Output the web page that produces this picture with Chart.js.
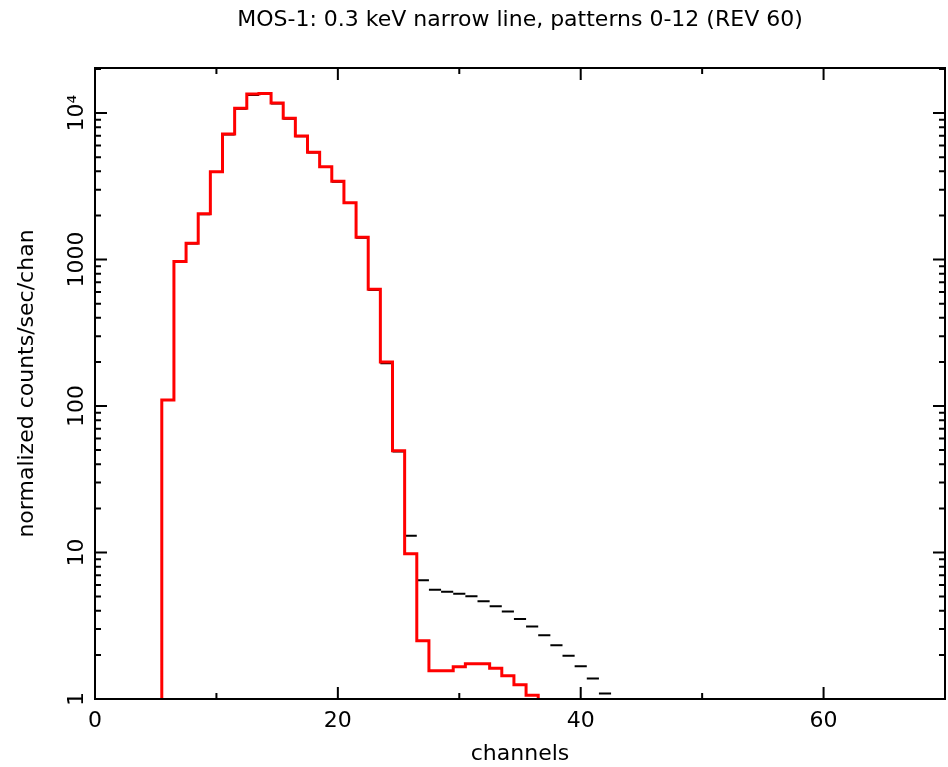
<!DOCTYPE html>
<html lang="en">
<head>
    <meta charset="UTF-8">
    <title>MOS-1 spectrum</title>
    <script src="https://cdn.jsdelivr.net/npm/chart.js@4.4.1/dist/chart.umd.min.js"></script>
    <style>
        body { margin: 0; background: #fff; }
        #wrap { width: 948px; height: 767px; }
    </style>
</head>
<body>
    <div id="wrap"><canvas id="myChart"></canvas></div>
    <script>
        // model (red histogram), channels 5..37
        const modelChannels = [5, 6, 7, 8, 9, 10, 11, 12, 13, 14, 15, 16, 17, 18, 19, 20, 21,
            22, 23, 24, 25, 26, 27, 28, 29, 30, 31, 32, 33, 34, 35, 36, 37];
        const modelValues = [0.5, 110, 970, 1290, 2050, 3980, 7190, 10800, 13500, 13600, 11700,
            9200, 6970, 5400, 4300, 3420, 2440, 1420, 626, 200, 49.5, 9.8, 2.5, 1.56, 1.56,
            1.66, 1.74, 1.74, 1.62, 1.44, 1.25, 1.06, 0.8];

        // data (black bins), channels 6..42
        const dataChannels = [6, 7, 8, 9, 10, 11, 12, 13, 14, 15, 16, 17, 18, 19, 20, 21, 22,
            23, 24, 25, 26, 27, 28, 29, 30, 31, 32, 33, 34, 35, 36, 37, 38, 39, 40, 41, 42];
        const dataValues = [110, 965, 1285, 2040, 3960, 7150, 10700, 13300, 13600, 11600, 9150,
            6950, 5380, 4280, 3400, 2430, 1410, 620, 196, 49, 13.0, 6.46, 5.57, 5.40, 5.23,
            5.02, 4.64, 4.29, 3.95, 3.52, 3.12, 2.72, 2.33, 1.97, 1.67, 1.38, 1.09];

        const xTicks = [0, 20, 40, 60];
        const yTicks = [1, 10, 100, 1000, 10000];
        const yTickLabels = ['1', '10', '100', '1000', '10\u2074'];

        const binWidth = 1;

        // step line through bin edges
        const modelPoints = [];
        modelChannels.forEach((c, i) => {
            modelPoints.push({x: c - binWidth / 2, y: modelValues[i]});
            modelPoints.push({x: c + binWidth / 2, y: modelValues[i]});
        });

        // separate horizontal bar per bin
        const dataPoints = [];
        dataChannels.forEach((c, i) => {
            dataPoints.push({x: c - binWidth / 2, y: dataValues[i]});
            dataPoints.push({x: c + binWidth / 2, y: dataValues[i]});
            dataPoints.push({x: c + binWidth / 2, y: null});
        });

        const FONT = 'DejaVu Sans';

        // plot box + inward tick marks on all four sides
        const frameTicks = {
            id: 'frameTicks',
            afterDraw(chart) {
                const {ctx, chartArea: a, scales: {x, y}} = chart;
                ctx.save();
                ctx.strokeStyle = '#000';
                ctx.lineWidth = 2;
                ctx.strokeRect(a.left, a.top, a.right - a.left, a.bottom - a.top);
                ctx.beginPath();
                for (let v = x.min; v <= x.max; v += 10) {
                    const px = x.getPixelForValue(v);
                    const len = v % 20 === 0 ? 12 : 6;
                    ctx.moveTo(px, a.bottom); ctx.lineTo(px, a.bottom - len);
                    ctx.moveTo(px, a.top); ctx.lineTo(px, a.top + len);
                }
                for (let d = 1; d <= y.max; d *= 10) {
                    for (let m = 1; m <= 9; m++) {
                        const v = m * d;
                        if (v > y.max) break;
                        const py = y.getPixelForValue(v);
                        const len = m === 1 ? 12 : 6;
                        ctx.moveTo(a.left, py); ctx.lineTo(a.left + len, py);
                        ctx.moveTo(a.right, py); ctx.lineTo(a.right - len, py);
                    }
                }
                ctx.stroke();
                ctx.restore();
            }
        };

        const ctx = document.getElementById('myChart').getContext('2d');
        const myChart = new Chart(ctx, {
            type: 'line',
            data: {
                datasets: [{
                    label: 'model',
                    data: modelPoints,
                    borderColor: '#ff0000',
                    borderWidth: 3,
                    pointRadius: 0,
                    tension: 0,
                    borderJoinStyle: 'miter'
                }, {
                    label: 'data',
                    data: dataPoints,
                    borderColor: '#000000',
                    borderWidth: 2,
                    pointRadius: 0,
                    tension: 0,
                    spanGaps: false
                }]
            },
            options: {
                responsive: true,
                maintainAspectRatio: false,
                animation: false,
                events: [],
                layout: { padding: {left: 0, right: 3, top: 0, bottom: 0} },
                plugins: {
                    legend: { display: false },
                    tooltip: { enabled: false },
                    title: {
                        display: true,
                        text: 'MOS-1: 0.3 keV narrow line, patterns 0-12 (REV 60)',
                        color: '#000',
                        fullSize: false,
                        font: {family: FONT, size: 22, weight: 'normal'},
                        padding: {top: 7, bottom: 34.6}
                    }
                },
                scales: {
                    x: {
                        type: 'linear',
                        min: 0,
                        max: 70,
                        grid: { display: false, drawTicks: false },
                        border: { display: false },
                        afterBuildTicks: (s) => { s.ticks = xTicks.map(v => ({value: v})); },
                        afterFit: (s) => { s.height = 68; },
                        ticks: {
                            color: '#000',
                            padding: 9,
                            maxRotation: 0,
                            font: {family: FONT, size: 22}
                        },
                        title: {
                            display: true,
                            text: 'channels',
                            color: '#000',
                            font: {family: FONT, size: 22},
                            padding: {top: 0, bottom: 0}
                        }
                    },
                    y: {
                        type: 'logarithmic',
                        min: 1,
                        max: 20300,
                        grid: { display: false, drawTicks: false },
                        border: { display: false },
                        afterBuildTicks: (s) => { s.ticks = yTicks.map(v => ({value: v})); },
                        afterFit: (s) => { s.width = 95; },
                        ticks: {
                            color: '#000',
                            minRotation: 90,
                            maxRotation: 90,
                            crossAlign: 'center',
                            padding: -10,
                            font: {family: FONT, size: 22},
                            callback: (value, index) => yTickLabels[index]
                        },
                        title: {
                            display: true,
                            text: 'normalized counts/sec/chan',
                            color: '#000',
                            font: {family: FONT, size: 22},
                            padding: {top: 14, bottom: 0}
                        }
                    }
                }
            },
            plugins: [frameTicks]
        });
    </script>
</body>
</html>
